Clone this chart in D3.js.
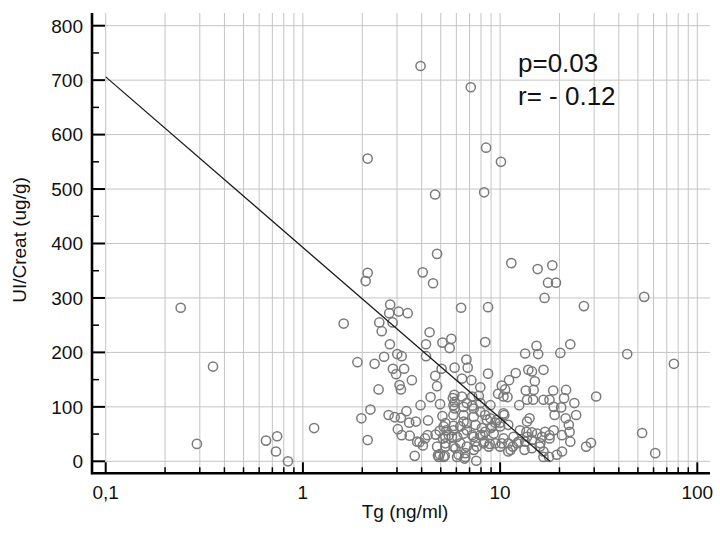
<!DOCTYPE html>
<html>
<head>
<meta charset="utf-8">
<script src="https://cdn.jsdelivr.net/npm/d3@7"></script>
<style>
  html, body { margin: 0; padding: 0; background: #fff; }
  svg { display: block; font-family: "Liberation Sans", Arial, sans-serif; }
</style>
</head>
<body>
<svg id="chart" width="720" height="543"></svg>
<script>
// ---- Data ----
const tg = [
  0.24,0.29,0.35,0.65,0.74,0.73,0.84,1.14,1.61,1.89,1.98,3.95,7.1,2.13,8.49,10.1,4.68,8.3,4.79,2.13,
  2.08,4.05,11.4,15.5,18.4,4.57,17.5,19.2,16.8,26.6,53.8,2.77,2.74,3.06,3.4,6.34,8.69,2.44,2.51,2.85,
  4.39,4.21,5.1,5.66,5.55,8.4,2.76,2.31,2.58,3.01,3.17,4.21,6.75,6.85,5.88,5.05,2.86,3.26,2.97,3.57,
  4.69,8.69,3.09,3.14,2.42,4.79,4.44,3.95,4.96,2.2,2.13,2.72,2.92,3.14,3.35,3.46,3.03,3.17,3.48,4.31,
  3.9,4.06,4.16,3.69,4.29,4.71,4.84,5.24,5.1,5.28,4.94,5.13,13.4,15.3,15.6,20.2,22.7,6.41,7.15,7.94,
  10.2,10.6,11.1,12.0,13.9,14.5,15.0,16.6,13.5,14.8,13.7,14.7,12.5,9.77,10.4,10.9,16.6,18.6,21.6,21.1,
  23.8,30.7,17.8,18.7,20.4,18.9,21.5,24.3,22.3,22.5,22.7,20.6,18.7,17.8,16.9,16.3,15.4,14.5,13.6,12.6,
  14.1,13.7,10.5,11.0,11.7,12.4,13.4,13.3,14.5,15.9,16.6,17.7,19.4,20.6,27.3,28.9,11.6,11.0,10.2,9.46,
  8.86,8.33,7.94,8.4,9.0,9.46,10.0,8.93,8.4,7.94,7.35,6.78,6.41,5.86,5.88,5.88,5.8,6.53,7.22,7.35,
  6.78,6.28,5.8,5.49,6.05,6.53,7.22,7.5,6.78,6.28,5.8,5.28,4.94,6.66,7.35,7.57,5.17,5.7,5.94,6.6,
  6.16,5.8,5.76,6.53,7.22,7.8,7.94,8.93,10.4,3.74,3.8,5.34,5.28,5.8,6.53,6.78,7.5,7.35,8.09,8.18,
  8.58,9.1,9.28,9.64,10.0,10.4,11.0,11.3,10.0,8.76,8.25,7.62,5.28,4.79,4.88,5.17,6.66,6.05,13.7,12.2,
  17.8,14.5,16.0,16.6,52.5,61.2,44.1,76.1
];
const uiCreat = [
  282,32,174,38,46,18,0,61,253,182,79,726,687,556,576,550,490,494,381,346,
  331,347,364,353,360,327,328,328,300,285,302,288,272,275,272,282,283,255,239,255,
  237,215,218,225,208,219,215,179,192,197,193,193,187,172,172,170,170,170,160,149,
  157,161,140,132,132,138,118,103,105,95,39,85,81,80,92,71,59,48,47,75,
  35,29,42,10,48,49,11,10,83,70,56,42,198,212,197,199,215,152,149,136,
  139,132,149,162,168,165,147,168,130,131,113,113,103,124,119,118,113,130,131,116,
  107,119,113,100,99,85,79,85,67,54,36,48,57,48,54,45,51,53,54,57,
  79,73,85,67,45,36,36,21,24,27,18,8,12,18,27,34,27,18,33,33,
  32,36,48,54,61,71,71,79,85,91,97,107,119,122,109,97,85,85,102,82,
  70,64,65,48,45,51,48,36,27,33,27,33,13,15,21,1,64,45,24,5,
  12,103,116,100,119,120,107,103,88,73,36,57,45,57,73,57,67,45,61,48,
  76,64,51,76,64,42,33,21,27,27,33,27,27,27,8,8,8,8,45,33,
  42,39,33,8,52,15,197,179
];
// regression line end points
const fitX = [0.1, 17.9];
const fitY = [706, 0];
const xTickValues = [0.1, 1, 10, 100];
const xTickLabels = ["0,1", "1", "10", "100"];
const yTickValues = [0, 100, 200, 300, 400, 500, 600, 700, 800];
const annotation = ["p=0.03", "r= - 0.12"];
const xTitle = "Tg (ng/ml)";
const yTitle = "UI/Creat (ug/g)";

// ---- Layout ----
const pLeft = 92, pRight = 710, pTop = 13, pBottom = 473.3;
const svg = d3.select("#chart");
const x = d3.scaleLog().domain([0.1, 100]).range([105.7, 697.3]);
const y = d3.scaleLinear().domain([0, 800]).range([461.3, 25.7]);

// decade sub-lines
const minorX = [];
for (let e = -1; e <= 2; e++) {
  for (let m = 1; m <= 9; m++) {
    const v = +(m * Math.pow(10, e)).toPrecision(3);
    if (x(v) <= pRight) minorX.push(v);
  }
}
const isMajor = v => xTickValues.some(t => Math.abs(t - v) < 1e-9);

const grid = svg.append("g").attr("stroke", "#c4c4c4").attr("stroke-width", 1);
grid.selectAll("line.v").data(minorX).join("line").attr("class", "v")
  .attr("x1", d => x(d)).attr("x2", d => x(d))
  .attr("y1", pTop).attr("y2", pBottom);
grid.selectAll("line.h").data(yTickValues).join("line").attr("class", "h")
  .attr("x1", pLeft).attr("x2", pRight)
  .attr("y1", d => y(d)).attr("y2", d => y(d));

// points
svg.append("g").selectAll("circle").data(tg.map((t, i) => [t, uiCreat[i]])).join("circle")
  .attr("cx", d => x(d[0])).attr("cy", d => y(d[1])).attr("r", 4.6)
  .attr("fill", "none").attr("stroke", "#7a7a7a").attr("stroke-width", 1.5);

// regression line
svg.append("path")
  .attr("d", d3.line().x(d => x(d[0])).y(d => y(d[1]))(fitX.map((v, i) => [v, fitY[i]])))
  .attr("stroke", "#1a1a1a").attr("stroke-width", 1.3).attr("fill", "none");

// axes lines
svg.append("line").attr("x1", pLeft).attr("x2", pLeft).attr("y1", pTop).attr("y2", pBottom + 1)
  .attr("stroke", "#000").attr("stroke-width", 2.6);
svg.append("line").attr("x1", pLeft - 1).attr("x2", pRight).attr("y1", pBottom).attr("y2", pBottom)
  .attr("stroke", "#000").attr("stroke-width", 2.6);

// y ticks
const yMinor = d3.range(50, 800, 100);
svg.append("g").selectAll("line").data(yTickValues).join("line")
  .attr("x1", pLeft).attr("x2", pLeft + 13).attr("y1", d => y(d)).attr("y2", d => y(d))
  .attr("stroke", "#000").attr("stroke-width", 2);
svg.append("g").selectAll("line").data(yMinor).join("line")
  .attr("x1", pLeft).attr("x2", pLeft + 7).attr("y1", d => y(d)).attr("y2", d => y(d))
  .attr("stroke", "#000").attr("stroke-width", 1.5);
svg.append("g").selectAll("text").data(yTickValues).join("text")
  .attr("x", 83).attr("y", d => y(d)).attr("dy", "0.36em")
  .attr("text-anchor", "end").attr("font-size", 19).attr("fill", "#111")
  .text(d => d);

// x ticks
svg.append("g").selectAll("line").data(minorX).join("line")
  .attr("x1", d => x(d)).attr("x2", d => x(d))
  .attr("y1", pBottom).attr("y2", d => isMajor(d) ? pBottom - 11 : pBottom - 6)
  .attr("stroke", "#000").attr("stroke-width", d => isMajor(d) ? 2 : 1.5);
svg.append("g").selectAll("text").data(xTickValues).join("text")
  .attr("x", d => x(d)).attr("y", 499)
  .attr("text-anchor", "middle").attr("font-size", 19).attr("fill", "#111")
  .text((d, i) => xTickLabels[i]);

// titles
svg.append("text").attr("x", 405).attr("y", 518).attr("text-anchor", "middle")
  .attr("font-size", 19).attr("fill", "#111").text(xTitle);
svg.append("text").attr("transform", "translate(26,240) rotate(-90)")
  .attr("text-anchor", "middle").attr("font-size", 19).attr("fill", "#111").text(yTitle);

// annotation
svg.append("g").selectAll("text").data(annotation).join("text")
  .attr("x", 518).attr("y", (d, i) => 72 + i * 33)
  .attr("font-size", 26).attr("fill", "#111").text(d => d);
</script>
</body>
</html>
